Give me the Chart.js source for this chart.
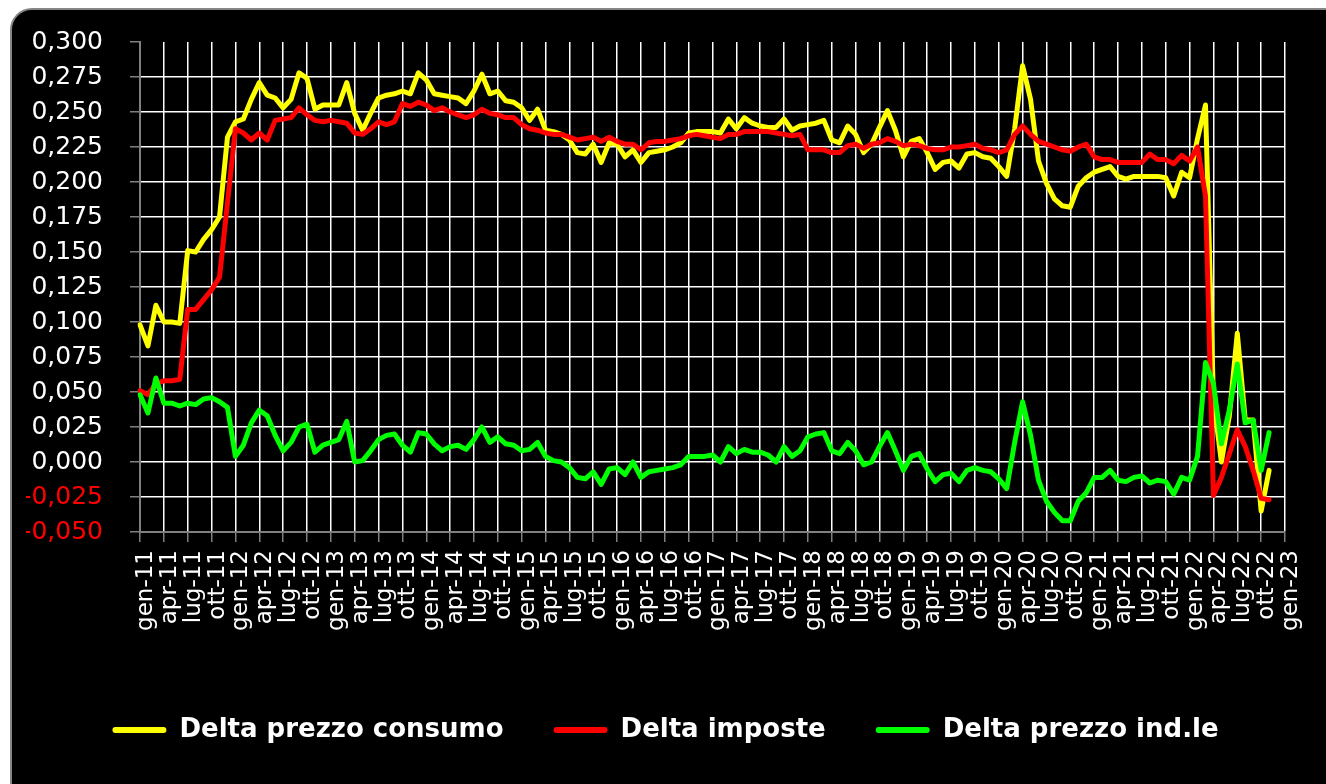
<!DOCTYPE html>
<html>
<head>
<meta charset="utf-8">
<script src="https://cdn.jsdelivr.net/npm/chart.js@4.4.1/dist/chart.umd.min.js"></script>
<style>
  html, body { margin: 0; padding: 0; background: #ffffff; overflow: hidden; }
  #frame {
    position: absolute; left: 10px; top: 8px; width: 1340px; height: 800px;
    background: #000000; border: 2px solid #858585; border-radius: 22px;
  }
  #chart { position: absolute; left: 0; top: 0; }
</style>
</head>
<body>
<div id="frame"></div>
<canvas id="chart" width="1326" height="784"></canvas>
<script>
// monthly categories gen-11 .. gen-23, labelled every quarter
var monthNames = ['gen', 'feb', 'mar', 'apr', 'mag', 'giu', 'lug', 'ago', 'set', 'ott', 'nov', 'dic'];
var categories = [];
for (var yr = 11; yr <= 22; yr++) {
  monthNames.forEach(function (m) { categories.push(m + '-' + yr); });
}
categories.push('gen-23');

var yTicks = [-0.05, -0.025, 0, 0.025, 0.05, 0.075, 0.1, 0.125, 0.15, 0.175, 0.2, 0.225, 0.25, 0.275, 0.3];

var prezzoConsumo = [
  0.098, 0.083, 0.112, 0.100, 0.100, 0.099, 0.151, 0.150, 0.159, 0.166, 0.175, 0.232,
  0.243, 0.245, 0.259, 0.271, 0.262, 0.260, 0.253, 0.259, 0.278, 0.274, 0.252, 0.255,
  0.255, 0.255, 0.271, 0.249, 0.237, 0.249, 0.260, 0.262, 0.263, 0.265, 0.263, 0.278,
  0.273, 0.263, 0.262, 0.261, 0.260, 0.256, 0.265, 0.277, 0.263, 0.265, 0.258, 0.257,
  0.253, 0.244, 0.252, 0.237, 0.236, 0.234, 0.230, 0.221, 0.220, 0.227, 0.214, 0.228,
  0.227, 0.218, 0.223, 0.214, 0.221, 0.222, 0.223, 0.225, 0.228, 0.235, 0.236, 0.236,
  0.236, 0.235, 0.245, 0.238, 0.246, 0.242, 0.240, 0.239, 0.239, 0.245, 0.237, 0.240,
  0.241, 0.242, 0.244, 0.230, 0.228, 0.240, 0.234, 0.221, 0.227, 0.239, 0.251, 0.237,
  0.218, 0.229, 0.231, 0.221, 0.209, 0.214, 0.215, 0.210, 0.220, 0.221, 0.218, 0.217,
  0.211, 0.204, 0.238, 0.283, 0.259, 0.215, 0.199, 0.188, 0.183, 0.182, 0.197, 0.203,
  0.207, 0.209, 0.211, 0.204, 0.202, 0.204, 0.204, 0.204, 0.204, 0.203, 0.190, 0.207,
  0.203, 0.231, 0.255, 0.045, 0.000, 0.033, 0.092, 0.030, 0.030, -0.035, -0.006
];

var imposte = [
  0.051, 0.048, 0.056, 0.058, 0.058, 0.059, 0.109, 0.109, 0.116, 0.123, 0.132, 0.185,
  0.238, 0.235, 0.230, 0.235, 0.230, 0.244, 0.245, 0.246, 0.253, 0.248, 0.244, 0.243,
  0.244, 0.243, 0.242, 0.235, 0.234, 0.238, 0.243, 0.241, 0.243, 0.256, 0.254, 0.257,
  0.255, 0.251, 0.253, 0.250, 0.248, 0.246, 0.248, 0.252, 0.249, 0.248, 0.246, 0.246,
  0.241, 0.238, 0.237, 0.235, 0.234, 0.234, 0.232, 0.230, 0.231, 0.232, 0.229, 0.232,
  0.229, 0.227, 0.227, 0.223, 0.228, 0.229, 0.229, 0.230, 0.231, 0.233, 0.234, 0.233,
  0.232, 0.231, 0.234, 0.234, 0.236, 0.236, 0.236, 0.236, 0.235, 0.234, 0.233, 0.234,
  0.223, 0.223, 0.223, 0.221, 0.221, 0.226, 0.227, 0.224, 0.227, 0.228, 0.231, 0.229,
  0.226, 0.227, 0.226, 0.224, 0.223, 0.223, 0.225, 0.225, 0.226, 0.227, 0.224, 0.223,
  0.221, 0.223, 0.234, 0.240, 0.234, 0.229, 0.227, 0.225, 0.223, 0.222, 0.225, 0.227,
  0.218, 0.216, 0.216, 0.214, 0.214, 0.214, 0.214, 0.220, 0.216, 0.216, 0.213, 0.219,
  0.215, 0.225, 0.190, -0.024, -0.011, 0.006, 0.023, 0.011, -0.006, -0.026, -0.027
];

var prezzoIndustriale = [
  0.048, 0.035, 0.060, 0.042, 0.042, 0.040, 0.042, 0.041, 0.045, 0.046, 0.043, 0.039,
  0.004, 0.012, 0.028, 0.037, 0.033, 0.019, 0.008, 0.014, 0.025, 0.027, 0.007, 0.012,
  0.014, 0.016, 0.029, 0.000, 0.001, 0.008, 0.016, 0.019, 0.020, 0.012, 0.007, 0.021,
  0.020, 0.013, 0.008, 0.011, 0.012, 0.009, 0.016, 0.025, 0.014, 0.018, 0.013, 0.012,
  0.008, 0.009, 0.014, 0.004, 0.001, 0.000, -0.004, -0.011, -0.012, -0.007, -0.016, -0.005,
  -0.004, -0.009, 0.000, -0.011, -0.007, -0.006, -0.005, -0.004, -0.002, 0.004, 0.004, 0.004,
  0.005, 0.000, 0.011, 0.006, 0.009, 0.007, 0.007, 0.005, 0.000, 0.011, 0.004, 0.008,
  0.018, 0.020, 0.021, 0.008, 0.006, 0.014, 0.008, -0.002, 0.000, 0.011, 0.021, 0.008,
  -0.006, 0.004, 0.006, -0.005, -0.014, -0.009, -0.008, -0.014, -0.006, -0.004, -0.006, -0.007,
  -0.012, -0.019, 0.014, 0.043, 0.019, -0.013, -0.028, -0.036, -0.042, -0.042, -0.028, -0.022,
  -0.011, -0.011, -0.006, -0.013, -0.014, -0.011, -0.010, -0.015, -0.013, -0.014, -0.023, -0.011,
  -0.013, 0.004, 0.071, 0.056, 0.013, 0.037, 0.070, 0.028, 0.030, -0.006, 0.021
];

Chart.defaults.font.family = "'DejaVu Sans', Verdana, sans-serif";
Chart.defaults.color = '#ffffff';

function series(label, values, color, order) {
  return {
    label: label,
    data: values,
    borderColor: color,
    backgroundColor: color,
    borderWidth: 5,
    pointRadius: 0,
    tension: 0,
    borderJoinStyle: 'round',
    borderCapStyle: 'round',
    fill: false,
    order: order
  };
}

// the legend sits a little right of the canvas centre in the original
var nudgeLegend = {
  id: 'nudgeLegend',
  afterLayout: function (chart) {
    if (!chart.legend) return;
    chart.legend.left += 10;
    chart.legend.right += 10;
  }
};

var canvas = document.getElementById('chart');
new Chart(canvas, {
  type: 'line',
  data: {
    labels: categories,
    datasets: [
      series('Delta prezzo consumo', prezzoConsumo, '#ffff00', 3),
      series('Delta imposte', imposte, '#ff0000', 2),
      series('Delta prezzo ind.le', prezzoIndustriale, '#00ff00', 1)
    ]
  },
  plugins: [nudgeLegend],
  options: {
    responsive: false,
    animation: false,
    layout: { padding: { left: 26, right: 41, top: 32, bottom: 31 } },
    plugins: {
      tooltip: { enabled: false },
      legend: {
        position: 'bottom',
        reverse: true,
        labels: {
          color: '#ffffff',
          font: { size: 26, weight: 'bold' },
          boxWidth: 54,
          boxHeight: 6,
          padding: 50,
          useBorderRadius: true,
          borderRadius: 3,
          generateLabels: function (chart) {
            return Chart.defaults.plugins.legend.labels.generateLabels(chart).map(function (l) {
              l.fillStyle = l.strokeStyle;
              l.lineWidth = 0;
              return l;
            });
          }
        }
      }
    },
    scales: {
      x: {
        offset: false,
        afterFit: function (s) { s.height = 135; },
        grid: {
          color: function (ctx) { return ctx.index % 3 === 0 ? '#ffffff' : 'rgba(0,0,0,0)'; },
          tickColor: function (ctx) { return ctx.index % 3 === 0 ? '#808080' : 'rgba(0,0,0,0)'; },
          lineWidth: 1.5,
          tickLength: 10,
          tickWidth: 1.5
        },
        border: { display: true, color: '#808080', width: 2 },
        ticks: {
          autoSkip: false,
          minRotation: 90,
          maxRotation: 90,
          padding: 8,
          labelOffset: 6,
          color: '#ffffff',
          font: { size: 23 },
          callback: function (val, idx) {
            return idx % 3 === 0 ? this.getLabelForValue(val) : '';
          }
        }
      },
      y: {
        min: -0.05,
        max: 0.3,
        afterFit: function (s) { s.width = 114; },
        afterBuildTicks: function (s) {
          s.ticks = yTicks.map(function (v) { return { value: v }; });
        },
        grid: {
          color: function (ctx) {
            return ctx.tick && ctx.tick.value > 0.29 ? 'rgba(0,0,0,0)' : '#ffffff';
          },
          tickColor: '#808080',
          lineWidth: 1.5,
          tickLength: 10,
          tickWidth: 1.5
        },
        border: { display: true, color: '#808080', width: 2 },
        ticks: {
          padding: 27,
          font: { size: 25 },
          color: function (ctx) { return ctx.tick && ctx.tick.value < 0 ? '#ff0000' : '#ffffff'; },
          callback: function (v) {
            var n = Math.abs(v) < 1e-9 ? 0 : v;
            return n.toFixed(3).replace('.', ',');
          }
        }
      }
    }
  }
});
</script>
</body>
</html>
